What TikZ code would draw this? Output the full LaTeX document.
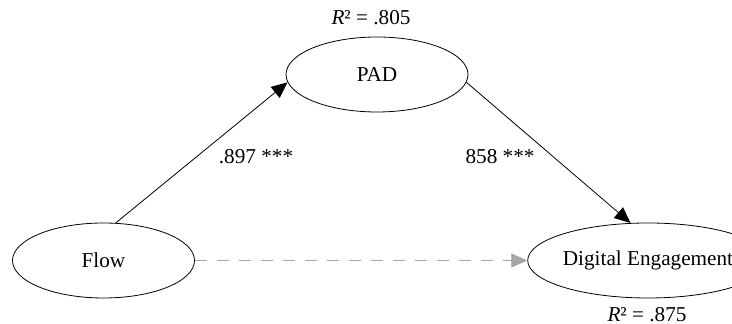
\documentclass[tikz,border=0pt]{standalone}
\usepackage{fontspec}
\setmainfont{Liberation Serif}
\usetikzlibrary{shapes.geometric,arrows.meta}
\definecolor{dashgray}{RGB}{165,165,165}
\begin{document}
\begin{tikzpicture}[x=0.5pt,y=-0.5pt,font=\fontsize{10.6}{12}\selectfont,
  latent/.style={draw,ellipse,minimum width=91pt,minimum height=37.5pt,inner sep=0pt},
  effect/.style={-{Triangle[length=8pt,width=7pt]}}]
\useasboundingbox (0,0) rectangle (732,324);
\node[latent] (pad) at (377,74.5) {PAD};
\node[latent] (flow) at (103.5,260.5) {Flow};
\node[latent] (de) at (648,260.5) {Digital Engagement};
\node[inner sep=0pt] (r2pad) at (371,18) {\textit{R}² = .805};
\node[inner sep=0pt] (r2de) at (647,315) {\textit{R}² = .875};
\draw[effect] (flow.72) -- (pad.185);
\draw[effect] (pad.355) -- (de.115);
\draw[effect,dashgray,dash pattern=on 6pt off 5pt] (flow.east) -- (de.west);
\node (b1) at (256,157) {.897 ***};
\node (b2) at (500,157) {858 ***};
\end{tikzpicture}
\end{document}
